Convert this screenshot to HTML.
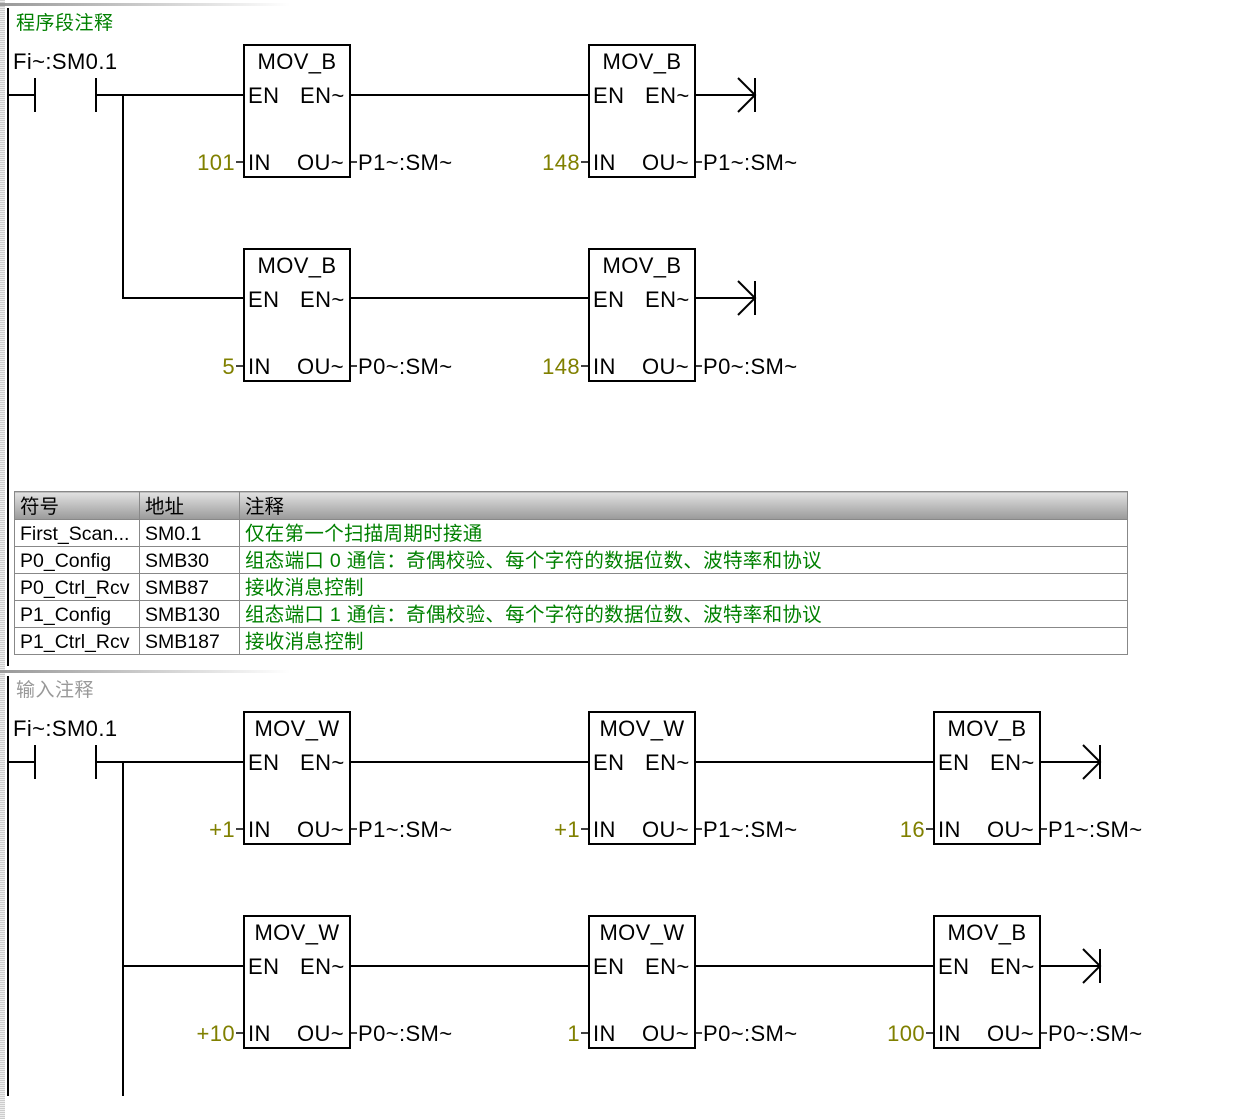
<!DOCTYPE html>
<html><head><meta charset="utf-8"><style>
body{margin:0;width:1236px;height:1119px;background:#fff;position:relative;overflow:hidden;font-family:"Liberation Sans","Noto Sans CJK SC",sans-serif}
.strip{position:absolute;left:0;top:0;width:5px;height:1119px;background:repeating-linear-gradient(0deg,#ccc 0 1px,#eee 1px 2px)}
svg{position:absolute;left:0;top:0}
table{position:absolute;left:14px;top:491px;border-collapse:collapse;width:1114px;font-size:19.5px}
td{border:1px solid #888;height:24px;padding:2px 0 0 5px;white-space:nowrap;line-height:24px}
tr.h td{background:linear-gradient(#e2e2e2,#9a9a9a);height:25px}
td.g{color:#008000;letter-spacing:0.3px}
</style></head><body>
<div class="strip"></div>
<svg width="1236" height="1119" font-family="Liberation Sans, Noto Sans CJK SC, sans-serif" font-size="22" letter-spacing="0.4">
<defs>
<linearGradient id="sep"><stop offset="0" stop-color="#999"/><stop offset="1" stop-color="#fff"/></linearGradient>
</defs>
<rect x="0" y="3" width="290" height="3" fill="url(#sep)"/>
<rect x="0" y="670" width="290" height="3" fill="url(#sep)"/>
<rect x="7" y="8" width="2" height="658" fill="#000"/>
<rect x="7" y="676" width="2" height="420" fill="#000"/>
<text x="16" y="29" font-size="19" fill="#008000" letter-spacing="0.5">程序段注释</text>
<text x="16" y="696" font-size="19" fill="#999" letter-spacing="0.5">输入注释</text>
<g stroke="#000" stroke-width="2" fill="none">
<path d="M8 95H35M35 78V112M96 78V112M96 95H244M123 95V298H244M350 95H589M695 95H755M755 78V112M738 78L755 95L738 112"/>
<path d="M350 298H589M695 298H755M755 281V315M738 281L755 298L738 315"/>
<path d="M8 762H35M35 745V779M96 745V779M96 762H244M123 762V1096M123 966H244M350 762H589M695 762H934M1040 762H1100M1100 745V779M1083 745L1100 762L1083 779"/>
<path d="M350 966H589M695 966H934M1040 966H1100M1100 949V983M1083 949L1100 966L1083 983"/>
</g>
<text x="13" y="69">Fi~:SM0.1</text>
<text x="13" y="736">Fi~:SM0.1</text>
<g>
<g transform="translate(244,45)"><rect width="106" height="132" fill="none" stroke="#000" stroke-width="2"/><path d="M-8 117H0M106 117H113" stroke="#000" stroke-width="1.5"/><text x="53" y="24" text-anchor="middle">MOV_B</text><text x="4" y="58">EN</text><text x="56" y="58">EN~</text><text x="4" y="125">IN</text><text x="53" y="125">OU~</text><text x="-9" y="125" text-anchor="end" fill="#808000">101</text><text x="114" y="125">P1~:SM~</text></g>
<g transform="translate(589,45)"><rect width="106" height="132" fill="none" stroke="#000" stroke-width="2"/><path d="M-8 117H0M106 117H113" stroke="#000" stroke-width="1.5"/><text x="53" y="24" text-anchor="middle">MOV_B</text><text x="4" y="58">EN</text><text x="56" y="58">EN~</text><text x="4" y="125">IN</text><text x="53" y="125">OU~</text><text x="-9" y="125" text-anchor="end" fill="#808000">148</text><text x="114" y="125">P1~:SM~</text></g>
<g transform="translate(244,249)"><rect width="106" height="132" fill="none" stroke="#000" stroke-width="2"/><path d="M-8 117H0M106 117H113" stroke="#000" stroke-width="1.5"/><text x="53" y="24" text-anchor="middle">MOV_B</text><text x="4" y="58">EN</text><text x="56" y="58">EN~</text><text x="4" y="125">IN</text><text x="53" y="125">OU~</text><text x="-9" y="125" text-anchor="end" fill="#808000">5</text><text x="114" y="125">P0~:SM~</text></g>
<g transform="translate(589,249)"><rect width="106" height="132" fill="none" stroke="#000" stroke-width="2"/><path d="M-8 117H0M106 117H113" stroke="#000" stroke-width="1.5"/><text x="53" y="24" text-anchor="middle">MOV_B</text><text x="4" y="58">EN</text><text x="56" y="58">EN~</text><text x="4" y="125">IN</text><text x="53" y="125">OU~</text><text x="-9" y="125" text-anchor="end" fill="#808000">148</text><text x="114" y="125">P0~:SM~</text></g>
<g transform="translate(244,712)"><rect width="106" height="132" fill="none" stroke="#000" stroke-width="2"/><path d="M-8 117H0M106 117H113" stroke="#000" stroke-width="1.5"/><text x="53" y="24" text-anchor="middle">MOV_W</text><text x="4" y="58">EN</text><text x="56" y="58">EN~</text><text x="4" y="125">IN</text><text x="53" y="125">OU~</text><text x="-9" y="125" text-anchor="end" fill="#808000">+1</text><text x="114" y="125">P1~:SM~</text></g>
<g transform="translate(589,712)"><rect width="106" height="132" fill="none" stroke="#000" stroke-width="2"/><path d="M-8 117H0M106 117H113" stroke="#000" stroke-width="1.5"/><text x="53" y="24" text-anchor="middle">MOV_W</text><text x="4" y="58">EN</text><text x="56" y="58">EN~</text><text x="4" y="125">IN</text><text x="53" y="125">OU~</text><text x="-9" y="125" text-anchor="end" fill="#808000">+1</text><text x="114" y="125">P1~:SM~</text></g>
<g transform="translate(934,712)"><rect width="106" height="132" fill="none" stroke="#000" stroke-width="2"/><path d="M-8 117H0M106 117H113" stroke="#000" stroke-width="1.5"/><text x="53" y="24" text-anchor="middle">MOV_B</text><text x="4" y="58">EN</text><text x="56" y="58">EN~</text><text x="4" y="125">IN</text><text x="53" y="125">OU~</text><text x="-9" y="125" text-anchor="end" fill="#808000">16</text><text x="114" y="125">P1~:SM~</text></g>
<g transform="translate(244,916)"><rect width="106" height="132" fill="none" stroke="#000" stroke-width="2"/><path d="M-8 117H0M106 117H113" stroke="#000" stroke-width="1.5"/><text x="53" y="24" text-anchor="middle">MOV_W</text><text x="4" y="58">EN</text><text x="56" y="58">EN~</text><text x="4" y="125">IN</text><text x="53" y="125">OU~</text><text x="-9" y="125" text-anchor="end" fill="#808000">+10</text><text x="114" y="125">P0~:SM~</text></g>
<g transform="translate(589,916)"><rect width="106" height="132" fill="none" stroke="#000" stroke-width="2"/><path d="M-8 117H0M106 117H113" stroke="#000" stroke-width="1.5"/><text x="53" y="24" text-anchor="middle">MOV_W</text><text x="4" y="58">EN</text><text x="56" y="58">EN~</text><text x="4" y="125">IN</text><text x="53" y="125">OU~</text><text x="-9" y="125" text-anchor="end" fill="#808000">1</text><text x="114" y="125">P0~:SM~</text></g>
<g transform="translate(934,916)"><rect width="106" height="132" fill="none" stroke="#000" stroke-width="2"/><path d="M-8 117H0M106 117H113" stroke="#000" stroke-width="1.5"/><text x="53" y="24" text-anchor="middle">MOV_B</text><text x="4" y="58">EN</text><text x="56" y="58">EN~</text><text x="4" y="125">IN</text><text x="53" y="125">OU~</text><text x="-9" y="125" text-anchor="end" fill="#808000">100</text><text x="114" y="125">P0~:SM~</text></g>
</g>
</svg>
<table>
<tr class="h"><td style="width:119px">符号</td><td style="width:94px">地址</td><td>注释</td></tr>
<tr><td>First_Scan...</td><td>SM0.1</td><td class="g">仅在第一个扫描周期时接通</td></tr>
<tr><td>P0_Config</td><td>SMB30</td><td class="g">组态端口 0 通信：奇偶校验、每个字符的数据位数、波特率和协议</td></tr>
<tr><td>P0_Ctrl_Rcv</td><td>SMB87</td><td class="g">接收消息控制</td></tr>
<tr><td>P1_Config</td><td>SMB130</td><td class="g">组态端口 1 通信：奇偶校验、每个字符的数据位数、波特率和协议</td></tr>
<tr><td>P1_Ctrl_Rcv</td><td>SMB187</td><td class="g">接收消息控制</td></tr>
</table>
</body></html>
